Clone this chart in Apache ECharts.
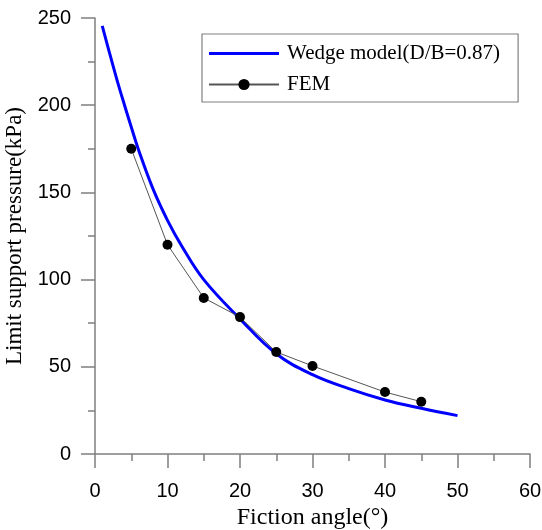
<!DOCTYPE html>
<html>
<head>
<meta charset="utf-8">
<script src="https://cdn.jsdelivr.net/npm/echarts@6/dist/echarts.min.js"></script>
<style>
html,body{margin:0;padding:0;background:#fff;}
#c{width:542px;height:530px;}
</style>
</head>
<body>
<div id="c"></div>
<script>
var wedgeX = [1, 2, 3, 4, 5, 6, 8, 10, 12, 15, 20, 25, 30, 35, 40, 45, 50];
var wedgeY = [245.5, 230, 215, 201, 187.5, 174.5, 152, 134, 119, 100, 77.5, 57.5, 45.5, 37.5, 31, 26.2, 22];
var femX = [5, 10, 15, 20, 25, 30, 40, 45];
var femY = [175, 120, 89.5, 78.5, 58.5, 50.5, 35.5, 30];
var xTicks = [0, 10, 20, 30, 40, 50, 60];
var yTicks = [0, 50, 100, 150, 200, 250];
var wedgeName = 'Wedge model(D/B=0.87)';
var femName = 'FEM';
var xName = 'Fiction angle(°)';
var yName = 'Limit support pressure(kPa)';

var chart = echarts.init(document.getElementById('c'), null, {renderer: 'canvas'});
var axisColor = '#7f7f7f';
var serif = '"Liberation Serif", "Times New Roman", serif';
var sans = '"Liberation Sans", Arial, sans-serif';

chart.setOption({
  animation: false,
  backgroundColor: '#fff',
  grid: {left: 95, right: 12, top: 18, bottom: 76, containLabel: false, outerBoundsMode: 'none'},
  legend: {
    orient: 'vertical',
    left: 202,
    top: 34,
    padding: [9, 18, 7, 6],
    itemGap: 10,
    itemWidth: 70,
    itemHeight: 14,
    borderColor: '#808080',
    borderWidth: 1.2,
    textStyle: {fontFamily: serif, fontSize: 21, color: '#000', lineHeight: 20, padding: [0, 0, 0, 3]},
    data: [
      {name: wedgeName, icon: 'path://M0,0 L70,0 L70,3 L0,3 Z', itemStyle: {color: '#0000ff'}},
      {name: femName}
    ]
  },
  xAxis: {
    type: 'value', min: xTicks[0], max: xTicks[xTicks.length - 1], interval: 10,
    name: xName, nameLocation: 'middle', nameGap: 49,
    nameTextStyle: {fontFamily: serif, fontSize: 24, color: '#000'},
    axisLine: {show: true, onZero: false, lineStyle: {color: axisColor, width: 1.5}},
    axisTick: {show: true, inside: false, length: 14, lineStyle: {color: axisColor, width: 1.5}},
    minorTick: {show: true, splitNumber: 2, length: 7, lineStyle: {color: axisColor, width: 1.5}},
    axisLabel: {fontFamily: sans, fontSize: 20, color: '#000', margin: 27},
    splitLine: {show: false}
  },
  yAxis: {
    type: 'value', min: yTicks[0], max: yTicks[yTicks.length - 1], interval: 50,
    name: yName, nameLocation: 'middle', nameGap: 58,
    nameTextStyle: {fontFamily: serif, fontSize: 23, color: '#000'},
    axisLine: {show: true, onZero: false, lineStyle: {color: axisColor, width: 1.5}},
    axisTick: {show: true, inside: false, length: 14, lineStyle: {color: axisColor, width: 1.5}},
    minorTick: {show: true, splitNumber: 2, length: 7, lineStyle: {color: axisColor, width: 1.5}},
    axisLabel: {fontFamily: sans, fontSize: 20, color: '#000', margin: 24},
    splitLine: {show: false}
  },
  series: [
    {
      name: wedgeName,
      type: 'line',
      data: wedgeX.map(function (x, i) { return [x, wedgeY[i]]; }),
      smooth: 0.4,
      symbol: 'none',
      showSymbol: false,
      lineStyle: {color: '#0000ff', width: 3},
      itemStyle: {color: '#0000ff'},
      z: 3
    },
    {
      name: femName,
      type: 'line',
      data: femX.map(function (x, i) { return [x, femY[i]]; }),
      symbol: 'circle',
      symbolSize: 10,
      lineStyle: {color: '#555', width: 1},
      itemStyle: {color: '#000'},
      z: 4
    }
  ]
});
</script>
</body>
</html>
